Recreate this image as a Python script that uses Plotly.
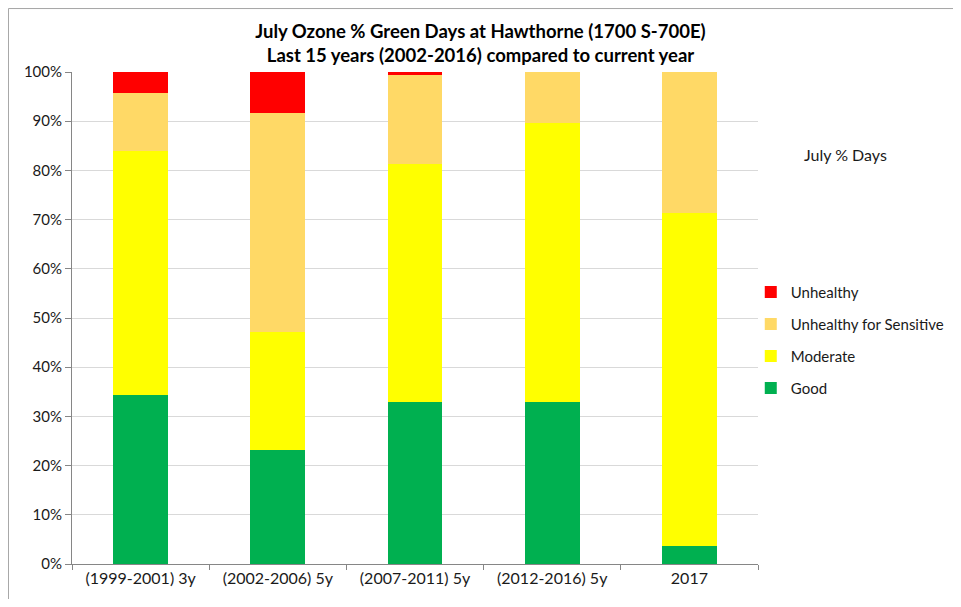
import plotly.graph_objects as go

categories = ["(1999-2001) 3y", "(2002-2006) 5y", "(2007-2011) 5y", "(2012-2016) 5y", "2017"]
good = [0.344, 0.232, 0.329, 0.329, 0.036]
moderate = [0.495, 0.239, 0.484, 0.568, 0.678]
unhealthy_sensitive = [0.118, 0.445, 0.181, 0.103, 0.286]
unhealthy = [0.043, 0.084, 0.006, 0.0, 0.0]

series = [
    ("Good", good, "#00B050", 4),
    ("Moderate", moderate, "#FFFF00", 3),
    ("Unhealthy for Sensitive", unhealthy_sensitive, "#FFD966", 2),
    ("Unhealthy", unhealthy, "#FF0000", 1),
]

font = "Lato, Calibri, sans-serif"

fig = go.Figure()
for name, vals, color, rank in series:
    fig.add_trace(go.Bar(x=categories, y=vals, name=name, legendgroup=name,
                         legendrank=rank,
                         marker=dict(color=color, line=dict(width=0)),
                         width=0.4))

fig.update_layout(
    barmode="stack",
    width=945, height=591,
    margin=dict(l=64, r=195, t=64, b=35, autoexpand=False),
    paper_bgcolor="white", plot_bgcolor="white",
    font=dict(family=font, size=15, color="#1a1a1a"),
    title=dict(text="<b>July Ozone % Green Days at Hawthorne (1700 S-700E)<br>Last 15 years (2002-2016) compared to current year</b>",
               x=0.5, xanchor="center", y=0.949, yanchor="top",
               font=dict(family=font, size=18.5, color="#000000")),
    legend=dict(xref="container", yref="container",
                x=0.786, xanchor="left", y=0.547, yanchor="top",
                tracegroupgap=9.5, bgcolor="rgba(0,0,0,0)",
                font=dict(family=font, size=15), itemwidth=30),
    showlegend=True,
)
fig.update_yaxes(range=[0, 1], dtick=0.1, tickformat=".0%",
                 showgrid=True, gridcolor="#d9d9d9", gridwidth=1,
                 showline=True, linecolor="#868686", ticks="outside",
                 tickcolor="#868686", ticklen=6, zeroline=False,
                 tickfont=dict(size=15))
fig.update_xaxes(showline=True, linecolor="#868686", ticks="outside",
                 tickson="boundaries", tickcolor="#868686", ticklen=5,
                 tickfont=dict(size=16))

fig.add_annotation(text="July % Days", xref="paper", yref="paper",
                   x=1.127, y=0.833, xanchor="center", yanchor="middle",
                   showarrow=False, font=dict(family=font, size=16))
fig.add_shape(type="rect", xref="paper", yref="paper",
              x0=-0.0926, x1=2, y0=-1, y1=1.129,
              line=dict(color="#a6a6a6", width=1), fillcolor="rgba(0,0,0,0)")

fig.write_html("out.html")
